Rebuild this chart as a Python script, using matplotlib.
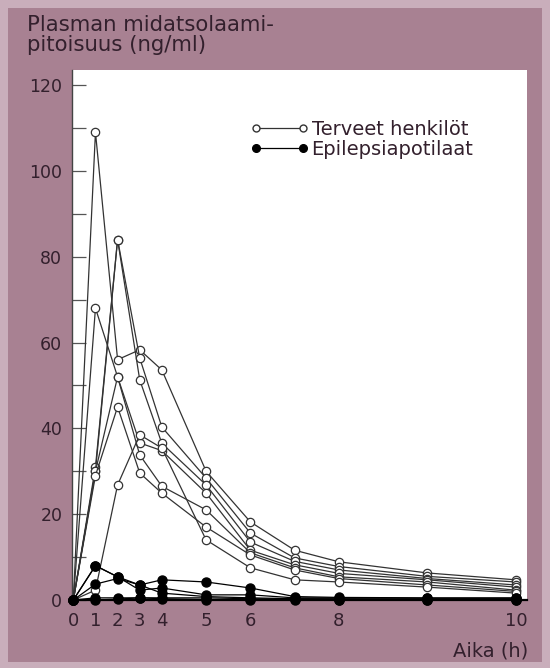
import matplotlib
matplotlib.use("Agg")
import matplotlib.pyplot as plt
from matplotlib.lines import Line2D
from matplotlib.patches import Rectangle

# axis positions of sampling times (the printed axis is non-uniform)
time_pos = [0, 0.5, 1, 1.5, 2, 3, 4, 5, 6, 8, 10]
xtick_pos = [0, 0.5, 1, 1.5, 2, 3, 4, 6, 10]
xtick_labels = ["0", "1", "2", "3", "4", "5", "6", "8", "10"]

# healthy volunteers (open circles)
healthy_a = [0, 109, 56, 58.3, 53.6, 30.0, 18.2, 11.6, 8.9, 6.3, 4.7]
healthy_b = [0, 31, 84, 56.4, 40.3, 28.4, 15.6, 9.8, 7.8, 5.5, 4.2]
healthy_c = [0, 30, 84, 51.3, 36.5, 26.8, 13.5, 9.0, 7.0, 5.0, 3.5]
healthy_d = [0, 68, 52, 36.6, 34.8, 24.9, 11.6, 8.2, 6.2, 4.7, 3.0]
healthy_e = [0, 30, 52, 33.8, 26.5, 21.0, 11.0, 7.5, 5.4, 4.2, 2.3]
healthy_f = [0, 29, 45, 29.6, 24.9, 17.0, 10.5, 7.0, 5.0, 3.5, 2.0]
healthy_g = [0, 2.3, 26.8, 38.5, 35.4, 14.0, 7.5, 4.7, 4.2, 3.0, 1.6]
healthy = [healthy_a, healthy_b, healthy_c, healthy_d, healthy_e, healthy_f, healthy_g]

# epilepsy patients (filled circles)
epilepsy_1 = [0, 8.0, 5.4, 3.5, 4.7, 4.2, 2.8, 0.8, 0.6, 0.5, 0.5]
epilepsy_2 = [0, 8.0, 5.4, 2.3, 2.8, 1.2, 1.2, 0.5, 0.5, 0.4, 0.4]
epilepsy_3 = [0, 3.7, 5.0, 3.5, 1.6, 0.8, 0.5, 0.3, 0.3, 0.2, 0.2]
epilepsy_4 = [0, 0.5, 0.5, 0.5, 0.5, 0.5, 0.3, 0.2, 0.1, 0.1, 0.1]
epilepsy_5 = [0, 0, 0.2, 0.5, 0.3, 0.1, 0, 0, 0, 0, 0]
epilepsy = [epilepsy_1, epilepsy_2, epilepsy_3, epilepsy_4, epilepsy_5]

legend_labels = ["Terveet henkilöt", "Epilepsiapotilaat"]
ylabel_text = "Plasman midatsolaami-\npitoisuus (ng/ml)"
xlabel_text = "Aika (h)"

plt.rcParams['font.family'] = ['DejaVu Sans']
txt = '#33202d'
line_c = '#333333'
bg = '#a88192'

fig = plt.figure(figsize=(5.5, 6.68), dpi=100)
fig.patch.set_facecolor('#c9aebb')
fig.add_artist(Rectangle((8 / 550, 6 / 668), 534 / 550, 654 / 668,
                         transform=fig.transFigure, facecolor=bg, edgecolor='none', zorder=0))

ax = fig.add_axes([72 / 550, 1 - 600 / 668, (527 - 72) / 550, (600 - 70) / 668])
ax.set_facecolor('white')

for s in healthy:
    ax.plot(time_pos, s, color=line_c, lw=0.9, marker='o', ms=6,
            mfc='white', mec=line_c, mew=0.9, clip_on=False, zorder=3)
for s in epilepsy:
    ax.plot(time_pos, s, color='black', lw=0.9, marker='o', ms=6.5,
            mfc='black', mec='black', clip_on=False, zorder=4)

ax.set_xlim(-0.03, 10.25)
ax.set_ylim(0, 123.5)
ax.set_xticks(xtick_pos)
ax.set_xticklabels(xtick_labels)
ax.set_yticks(range(0, 121, 20))
ax.set_yticks(range(10, 121, 20), minor=True)
ax.tick_params(axis='x', length=0, pad=9, labelsize=13, labelcolor=txt)
ax.tick_params(axis='y', which='both', direction='in', length=10, width=0.9,
               color='#555555', labelsize=12.5, labelcolor=txt, pad=7)
for side in ['top', 'right']:
    ax.spines[side].set_visible(False)
ax.spines['left'].set_color('#444444')
ax.spines['left'].set_linewidth(1.0)
ax.spines['bottom'].set_color('black')
ax.spines['bottom'].set_linewidth(1.6)

handles = [Line2D([0], [0], color=line_c, lw=0.9, marker='o', ms=5, mfc='white', mec=line_c),
           Line2D([0], [0], color='black', lw=0.9, marker='o', ms=5.5, mfc='black', mec='black')]
ax.legend(handles, legend_labels, loc='upper left', bbox_to_anchor=(0.392, 0.906),
          frameon=False, numpoints=2, handlelength=3.0, handletextpad=0.15,
          labelspacing=0.05, borderpad=0, borderaxespad=0, fontsize=14, labelcolor=txt)

fig.text(27 / 550, 1 - 15 / 668, ylabel_text, ha='left', va='top', fontsize=15.3,
         color=txt, linespacing=0.98)
fig.text(528 / 550, 1 - 651 / 668, xlabel_text, ha='right', va='center', fontsize=14, color=txt)

fig.savefig('out.png', dpi=100, facecolor=fig.get_facecolor())
